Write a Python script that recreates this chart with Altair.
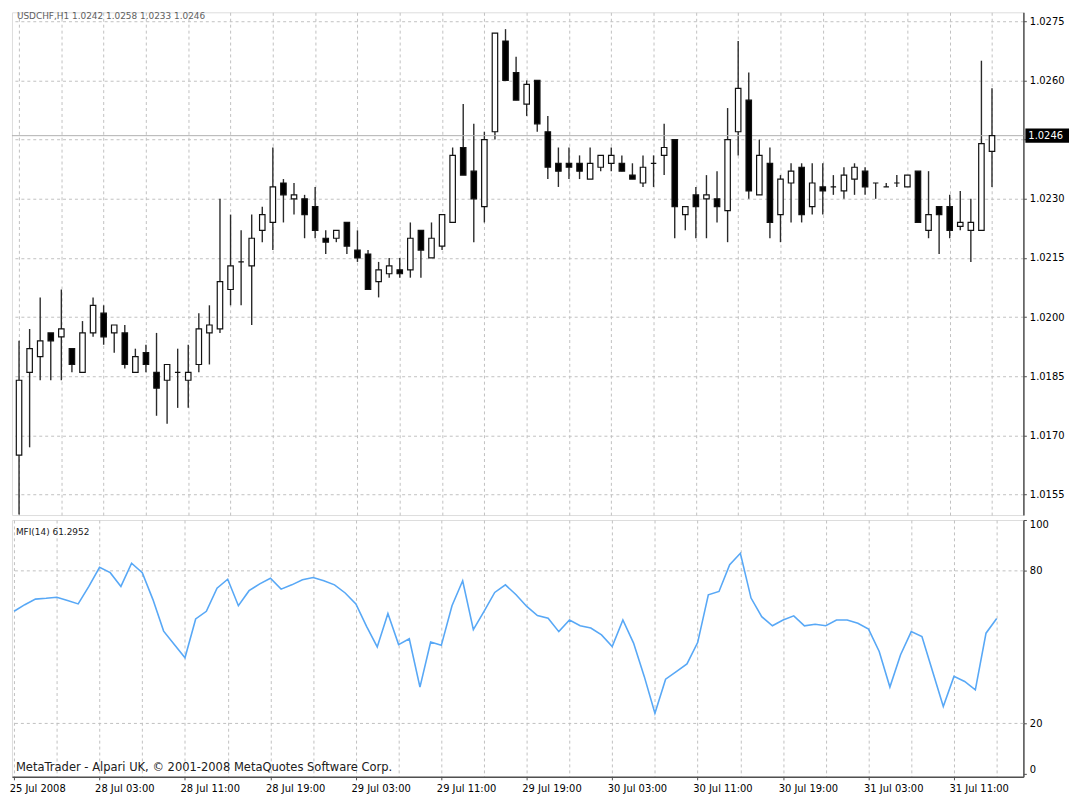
import altair as alt
import pandas as pd

# ---------------- data ----------------
bar_index = list(range(93))

opens = [1.0165, 1.0186, 1.0190, 1.0196, 1.0195, 1.0192, 1.0186, 1.0196, 1.0201, 1.0196,
         1.0196, 1.0186, 1.0191, 1.0186, 1.0184, 1.0186, 1.0184, 1.0188, 1.0196, 1.0197,
         1.0207, 1.0214, 1.0213, 1.0222, 1.0224, 1.0234, 1.0230, 1.0230, 1.0228, 1.0220,
         1.0220, 1.0224, 1.0217, 1.0216, 1.0209, 1.0211, 1.0212, 1.0212, 1.0222, 1.0215,
         1.0218, 1.0224, 1.0243, 1.0237, 1.0228, 1.0247, 1.0270, 1.0262, 1.0254, 1.0260,
         1.0247, 1.0239, 1.0239, 1.0239, 1.0235, 1.0238, 1.0239, 1.0239, 1.0236, 1.0234,
         1.0239, 1.0241, 1.0245, 1.0226, 1.0231, 1.0230, 1.0230, 1.0227, 1.0247, 1.0255,
         1.0231, 1.0239, 1.0226, 1.0234, 1.0238, 1.0228, 1.0233, 1.0233, 1.0232, 1.0235,
         1.0237, 1.0234, 1.0233, 1.0234, 1.0233, 1.0237, 1.0222, 1.0228, 1.0228, 1.0223,
         1.0222, 1.0222, 1.0242]
highs = [1.0194, 1.0197, 1.0205, 1.0196, 1.0207, 1.0192, 1.0199, 1.0205, 1.0203, 1.0198,
         1.0198, 1.0192, 1.0193, 1.0196, 1.0188, 1.0192, 1.0193, 1.0201, 1.0203, 1.0230,
         1.0226, 1.0222, 1.0226, 1.0228, 1.0243, 1.0235, 1.0234, 1.0231, 1.0233, 1.0222,
         1.0222, 1.0224, 1.0222, 1.0217, 1.0214, 1.0215, 1.0215, 1.0224, 1.0222, 1.0224,
         1.0226, 1.0243, 1.0254, 1.0249, 1.0247, 1.0272, 1.0273, 1.0266, 1.0260, 1.0260,
         1.0251, 1.0243, 1.0243, 1.0241, 1.0243, 1.0241, 1.0243, 1.0241, 1.0239, 1.0241,
         1.0241, 1.0249, 1.0245, 1.0228, 1.0233, 1.0236, 1.0237, 1.0253, 1.0270, 1.0262,
         1.0245, 1.0243, 1.0236, 1.0239, 1.0239, 1.0239, 1.0239, 1.0236, 1.0238, 1.0239,
         1.0238, 1.0234, 1.0234, 1.0236, 1.0236, 1.0237, 1.0237, 1.0228, 1.0231, 1.0232,
         1.0230, 1.0265, 1.0258]
lows = [1.0150, 1.0167, 1.0184, 1.0184, 1.0184, 1.0186, 1.0186, 1.0195, 1.0193, 1.0191,
        1.0187, 1.0186, 1.0186, 1.0175, 1.0173, 1.0177, 1.0177, 1.0186, 1.0188, 1.0196,
        1.0203, 1.0203, 1.0198, 1.0219, 1.0217, 1.0224, 1.0226, 1.0220, 1.0220, 1.0216,
        1.0219, 1.0216, 1.0214, 1.0207, 1.0205, 1.0210, 1.0210, 1.0210, 1.0210, 1.0215,
        1.0217, 1.0224, 1.0236, 1.0219, 1.0224, 1.0245, 1.0260, 1.0255, 1.0251, 1.0247,
        1.0235, 1.0233, 1.0235, 1.0235, 1.0235, 1.0237, 1.0237, 1.0237, 1.0235, 1.0233,
        1.0233, 1.0236, 1.0220, 1.0222, 1.0220, 1.0220, 1.0224, 1.0219, 1.0241, 1.0230,
        1.0231, 1.0220, 1.0219, 1.0224, 1.0224, 1.0226, 1.0226, 1.0231, 1.0230, 1.0231,
        1.0231, 1.0230, 1.0233, 1.0233, 1.0233, 1.0224, 1.0220, 1.0216, 1.0220, 1.0222,
        1.0214, 1.0222, 1.0233]
closes = [1.0184, 1.0192, 1.0194, 1.0194, 1.0197, 1.0188, 1.0196, 1.0203, 1.0195, 1.0198,
          1.0188, 1.0190, 1.0188, 1.0182, 1.0188, 1.0186, 1.0186, 1.0197, 1.0198, 1.0209,
          1.0213, 1.0214, 1.0220, 1.0226, 1.0233, 1.0231, 1.0231, 1.0226, 1.0222, 1.0219,
          1.0222, 1.0218, 1.0215, 1.0207, 1.0212, 1.0213, 1.0211, 1.0220, 1.0217, 1.0220,
          1.0226, 1.0241, 1.0236, 1.0230, 1.0245, 1.0272, 1.0260, 1.0255, 1.0259, 1.0249,
          1.0238, 1.0237, 1.0238, 1.0237, 1.0239, 1.0241, 1.0241, 1.0237, 1.0235, 1.0238,
          1.0239, 1.0243, 1.0228, 1.0228, 1.0228, 1.0231, 1.0228, 1.0245, 1.0258, 1.0232,
          1.0241, 1.0224, 1.0235, 1.0237, 1.0226, 1.0234, 1.0232, 1.0233, 1.0236, 1.0238,
          1.0233, 1.0234, 1.0233, 1.0234, 1.0236, 1.0224, 1.0226, 1.0226, 1.0222, 1.0224,
          1.0224, 1.0244, 1.0246]

mfi = [64.1, 66.7, 68.9, 69.2, 69.6, 68.3, 67.0, 73.9, 81.4, 79.3,
       73.9, 83.0, 79.3, 68.7, 56.3, 51.0, 45.8, 61.1, 64.1, 73.2,
       76.7, 66.3, 72.2, 74.9, 77.1, 72.8, 74.5, 76.5, 77.4, 76.1,
       74.5, 71.3, 67.0, 58.2, 50.1, 63.2, 51.0, 53.3, 34.3, 52.0,
       50.7, 66.3, 76.1, 56.9, 64.1, 71.5, 74.5, 70.6, 66.0, 62.4,
       61.4, 56.1, 60.7, 58.4, 57.5, 54.8, 50.2, 60.7, 51.6, 38.5,
       24.0, 37.4, 40.4, 43.4, 51.8, 70.6, 71.9, 82.4, 86.9, 69.3,
       62.0, 58.4, 60.7, 62.3, 58.4, 59.0, 58.4, 60.7, 60.7, 59.4,
       57.1, 48.3, 34.3, 47.0, 56.1, 54.2, 40.4, 26.7, 38.5, 36.5,
       33.2, 55.5, 61.2952]

time_labels = ["25 Jul 2008", "28 Jul 03:00", "28 Jul 11:00", "28 Jul 19:00",
               "29 Jul 03:00", "29 Jul 11:00", "29 Jul 19:00", "30 Jul 03:00",
               "30 Jul 11:00", "30 Jul 19:00", "31 Jul 03:00", "31 Jul 11:00"]
price_ticks = [1.0155, 1.0170, 1.0185, 1.0200, 1.0215, 1.0230, 1.0245, 1.0260, 1.0275]
mfi_ticks = [0, 20, 80, 100]
mfi_levels = [20, 80]
symbol = "USDCHF,H1"

# ---------------- tables ----------------
df = pd.DataFrame({"i": bar_index, "open": opens, "high": highs,
                   "low": lows, "close": closes, "mfi": mfi})
last = df.tail(1).copy()
last["header"] = (f"{symbol}  {last['open'].iloc[0]:.4f} {last['high'].iloc[0]:.4f} "
                  f"{last['low'].iloc[0]:.4f} {last['close'].iloc[0]:.4f}")
last["mfi_title"] = f"MFI(14) {mfi[-1]:.4f}"
levels_df = pd.DataFrame({"level": mfi_levels})

FONT = "DejaVu Sans"
GRID = "#c0c0c0"
DASH = [3, 3]
W = 1020
H_MAIN = 507
H_MFI = 259

x_scale = alt.Scale(domain=[-0.2, 94.5], nice=False, zero=False)
grid_vals = list(range(0, 93, 4))
arr = "[" + ",".join(f"'{s}'" for s in time_labels) + "]"
x_label_expr = f"datum.value % 8 == 0 ? {arr}[datum.value / 8] : ''"

# ---------------- main price panel ----------------
base = alt.Chart(df)
x_main = alt.X("i:Q", scale=x_scale,
               axis=alt.Axis(values=grid_vals, grid=True, labels=False, ticks=False,
                             domain=False, title=None, gridColor=GRID, gridDash=DASH,
                             gridWidth=1))
y_scale = alt.Scale(domain=[1.014983, 1.027727], nice=False, zero=False)
y_main = alt.Y("low:Q", scale=y_scale,
               axis=alt.Axis(orient="right", values=price_ticks, format=".4f",
                             labelExpr="abs(datum.value - 1.0245) < 0.00001 ? '' : datum.label",
                             grid=True, gridColor=GRID, gridDash=DASH, gridWidth=1,
                             domainColor="#505050", domainWidth=1.5, tickColor="#505050",
                             tickSize=3, labelPadding=3, labelFont=FONT, labelFontSize=10,
                             labelColor="#000000", title=None))

wicks = base.mark_rule(color="#2a2a2a", strokeWidth=1.4).encode(
    x=x_main, y=y_main, y2="high:Q")

bodies = base.mark_bar(size=5.5, stroke="#111111", strokeWidth=1.2).encode(
    x="i:Q",
    y=alt.Y("open:Q", scale=y_scale),
    y2="close:Q",
    color=alt.condition("datum.close >= datum.open", alt.value("#ffffff"), alt.value("#000000")),
)

last_base = alt.Chart(last)
bid_line = last_base.mark_rule(color="#b0b0b0", strokeWidth=1).encode(
    y=alt.Y("close:Q", scale=y_scale))

box = last_base.transform_calculate(
    lo="datum.close - 0.00018", hi="datum.close + 0.00018"
).mark_rect(color="#000000").encode(
    x=alt.value(W + 2), x2=alt.value(W + 46),
    y=alt.Y("lo:Q", scale=y_scale), y2="hi:Q")

box_text = last_base.mark_text(align="left", baseline="middle", color="#ffffff",
                               font=FONT, fontSize=10).encode(
    x=alt.value(W + 5), y=alt.Y("close:Q", scale=y_scale),
    text=alt.Text("close:Q", format=".4f"))

header = last_base.mark_text(align="left", baseline="top", color="#606060",
                             font=FONT, fontSize=9).encode(
    x=alt.value(5), y=alt.value(0), text="header:N")

main = alt.layer(wicks, bid_line, bodies, box, box_text, header).properties(
    width=W, height=H_MAIN)

# ---------------- MFI panel ----------------
mfi_scale = alt.Scale(domain=[-1, 100], nice=False, zero=False)
x_mfi = alt.X("i:Q", scale=x_scale,
              axis=alt.Axis(values=grid_vals, grid=True, gridColor=GRID, gridDash=DASH,
                            gridWidth=1, labelExpr=x_label_expr, labelAlign="left",
                            labelOffset=-5, labelPadding=4, labelFont=FONT,
                            labelFontSize=10, labelColor="#000000", tickSize=3,
                            tickColor="#505050",
                            tickOpacity={"condition": {"test": "datum.value % 8 == 0", "value": 1},
                                         "value": 0},
                            domainColor="#505050", domainWidth=1.5, title=None))
y_mfi = alt.Y("mfi:Q", scale=mfi_scale,
              axis=alt.Axis(orient="right", values=mfi_ticks, grid=False,
                            domainColor="#505050", domainWidth=1.5, tickColor="#505050",
                            tickSize=3, labelPadding=3, labelFont=FONT, labelFontSize=10,
                            labelColor="#000000",
                            labelBaseline={"condition": [
                                {"test": "datum.value == 100", "value": "top"},
                                {"test": "datum.value == 0", "value": "bottom"}],
                                "value": "middle"},
                            title=None))

level_rules = alt.Chart(levels_df).mark_rule(color=GRID, strokeDash=DASH, strokeWidth=1).encode(
    y=alt.Y("level:Q", scale=mfi_scale))

mfi_line = alt.Chart(df).mark_line(color="#58a8f6", strokeWidth=1.6).encode(
    x=x_mfi, y=y_mfi)

mfi_title = last_base.mark_text(align="left", baseline="middle", color="#202020",
                                font=FONT, fontSize=9).encode(
    x=alt.value(4), y=alt.value(12), text="mfi_title:N")

footer_df = pd.DataFrame({"t": ["MetaTrader - Alpari UK, \u00a9 2001-2008 MetaQuotes Software Corp."]})
footer = alt.Chart(footer_df).mark_text(align="left", baseline="middle", color="#202020",
                                        font=FONT, fontSize=11.6).encode(
    x=alt.value(4), y=alt.value(250), text="t:N")

mfi_panel = alt.layer(level_rules, mfi_line, mfi_title, footer).properties(
    width=W, height=H_MFI)

chart = alt.vconcat(main, mfi_panel, spacing=3, padding=0).resolve_scale(
    x="independent", y="independent"
).configure_view(stroke="#606060", strokeWidth=1.5).configure(background="#ffffff")

chart.save("out.html", embed_options={"renderer": "svg", "actions": False})
